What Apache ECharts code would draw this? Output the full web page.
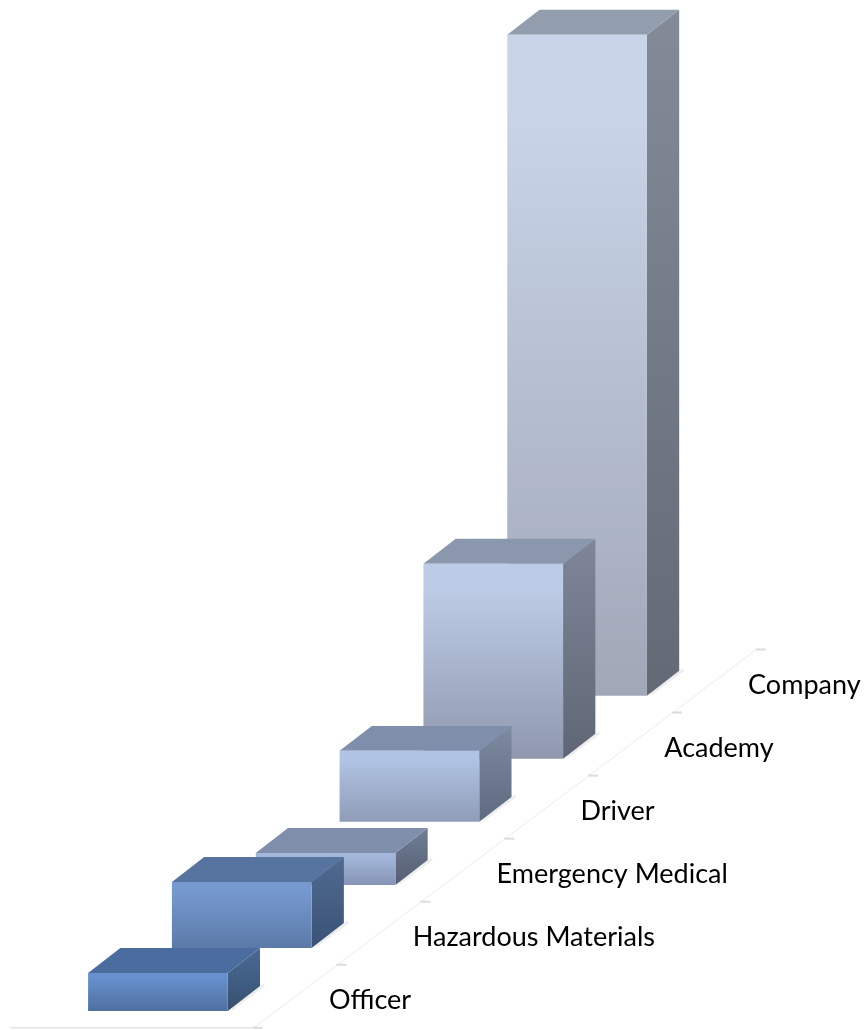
<!DOCTYPE html>
<html>
<head>
<meta charset="utf-8">
<title>3D bars</title>
<script src="https://cdn.jsdelivr.net/npm/echarts@6/dist/echarts.min.js"></script>
<style>
    html, body { margin: 0; padding: 0; background: #fff; }
    #chart { width: 864px; height: 1030px; }
</style>
</head>
<body>
<div id="chart"></div>
<script>
const categories = ["Officer", "Hazardous Materials", "Emergency Medical", "Driver", "Academy", "Company"];
const values = [38, 66, 32, 71, 195, 661];

// front top, front bottom, top face, side top, side bottom
const palette = [
    ["#6690ce", "#4f709f", "#4a6c9e", "#4b6a96", "#36506f"],
    ["#7699d0", "#5b7aa8", "#56749f", "#506a90", "#3b5276"],
    ["#a3b7db", "#8594b4", "#7f8fab", "#6f7d95", "#575f72"],
    ["#b1c3e3", "#8e9cb7", "#7f8fab", "#7e8aa0", "#5f6a80"],
    ["#bdcce6", "#8f98ae", "#8b97ad", "#7e8698", "#5f6675"],
    ["#c9d4e8", "#a0a7b7", "#929dae", "#838b99", "#636975"],
];

// floor geometry, in fractions of one category band
const RISE = 0.752;
const HALF_W = 0.833;
const DEPTH_X = 0.385;
const DEPTH_Y = 0.298;

const chart = echarts.init(document.getElementById("chart"), undefined, { renderer: "canvas" });

const vGrad = (a, b, hold) => ({
    type: "linear", x: 0, y: 0, x2: 0, y2: 1,
    colorStops: [{ offset: 0, color: a }, { offset: hold || 0, color: a }, { offset: 1, color: b }],
});

function renderBar(params, api) {
    const i = api.value(0);
    const [cx, floorY] = api.coord([i, 0]);
    const [, topY0] = api.coord([i, api.value(1)]);
    const band = api.size([1, 0])[0];
    const lift = i * band * RISE;
    const base = floorY - lift;
    const top = topY0 - lift;
    const l = cx - band * HALF_W;
    const r = cx + band * HALF_W;
    const dx = band * DEPTH_X;
    const dy = band * DEPTH_Y;
    const c = palette[i];
    return {
        type: "group",
        children: [
            // faint contact shadow past the back corner
            {
                type: "line",
                shape: { x1: r + 4, y1: base - 2, x2: r + dx + 4, y2: base - dy - 1 },
                style: { stroke: "rgba(0,0,0,0.07)", lineWidth: 3 },
            },
            {
                type: "polygon",
                shape: { points: [[r, top], [r + dx, top - dy], [r + dx, base - dy], [r, base]] },
                style: { fill: vGrad(c[3], c[4]) },
            },
            {
                type: "polygon",
                shape: { points: [[l, top], [r, top], [r + dx, top - dy], [l + dx, top - dy]] },
                style: { fill: c[2] },
            },
            {
                type: "rect",
                shape: { x: l, y: top, width: r - l, height: base - top },
                style: { fill: vGrad(c[0], c[1], 0.12) },
            },
        ],
    };
}

function renderAxis(params, api) {
    const i = api.value(0);
    const [cx, floorY] = api.coord([i, 0]);
    const band = api.size([1, 0])[0];
    const lift = i * band * RISE;
    // tick at the front of this category's band
    const tx = cx + band * 1.19;
    const ty = floorY + band * 0.2 - lift;
    const nx = tx + band;
    const ny = ty - band * RISE;
    const lineStyle = { stroke: "#ececec", lineWidth: 1 };
    const tickStyle = { stroke: "#dcdcdc", lineWidth: 2 };
    const children = [
        { type: "line", shape: { x1: tx - 4, y1: ty, x2: nx - 4, y2: ny }, style: lineStyle },
        { type: "line", shape: { x1: tx - 5, y1: ty, x2: tx + 5, y2: ty }, style: tickStyle },
        {
            type: "text",
            style: {
                text: categories[i],
                x: cx + band * 2.04,
                y: floorY - band * 0.13 - lift,
                fill: "#000",
                font: '27px Lato, "Open Sans", sans-serif',
                align: "left",
                verticalAlign: "middle",
            },
        },
    ];
    if (i === 0) {
        children.push({ type: "line", shape: { x1: 10, y1: ty, x2: tx - 5, y2: ty }, style: { stroke: "#e4e4e4", lineWidth: 1.5 } });
    }
    if (i === categories.length - 1) {
        children.push({ type: "line", shape: { x1: nx - 5, y1: ny, x2: nx + 5, y2: ny }, style: tickStyle });
    }
    return { type: "group", children };
}

chart.setOption({
    animation: false,
    backgroundColor: "#fff",
    grid: { left: 116, width: 503, top: 11, height: 1000 },
    xAxis: { type: "category", data: categories, show: false },
    yAxis: { type: "value", min: 0, max: 1000, show: false },
    series: [
        {
            type: "custom",
            name: "axis",
            renderItem: renderAxis,
            data: categories.map((c, i) => [i, 0]),
            silent: true,
            z: 1,
        },
        {
            type: "custom",
            name: "bars",
            renderItem: renderBar,
            // back row first so nearer bars cover it
            data: values.map((v, i) => [i, v]).reverse(),
            encode: { x: 0, y: 1 },
            z: 2,
        },
    ],
});
</script>
</body>
</html>
